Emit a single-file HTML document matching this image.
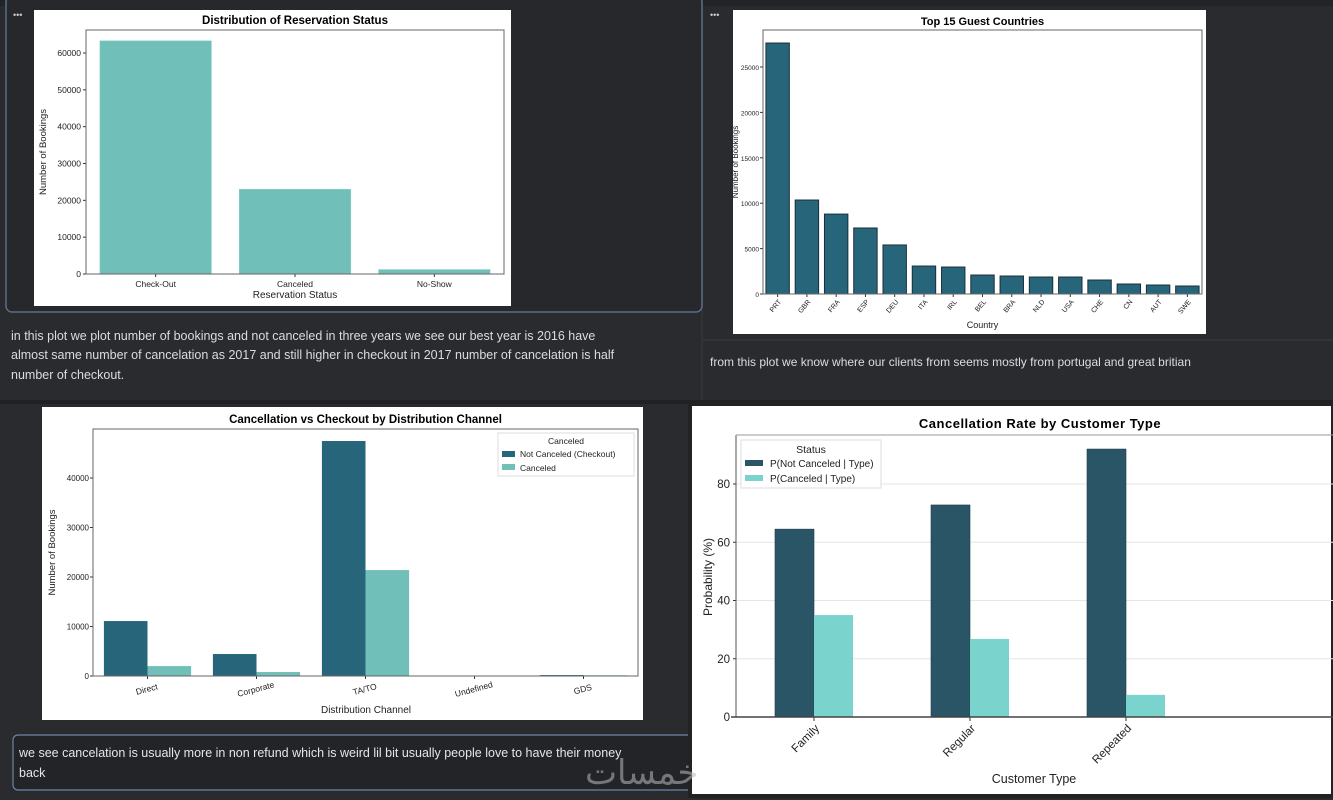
<!DOCTYPE html>
<html><head><meta charset="utf-8"><style>
html,body{margin:0;padding:0;background:#2a2b2e;width:1333px;height:800px;overflow:hidden}
svg{display:block;font-family:"Liberation Sans","DejaVu Sans",sans-serif}
</style></head><body>
<svg id="s" width="1333" height="800" viewBox="0 0 1333 800">
<rect x="0" y="0" width="1333" height="800" fill="#2a2b2e"/>
<rect x="0" y="0" width="1333" height="6" fill="#222326"/>
<line x1="702" y1="0" x2="702" y2="400" stroke="#3a3b3e"/>
<rect x="6" y="-4" width="696" height="316" rx="6" fill="#27282b" stroke="#5a6e86" stroke-width="1.5"/>
<text x="13" y="18" fill="#ccc" font-size="9">•••</text>
<text x="710" y="18" fill="#ccc" font-size="9">•••</text>
<line x1="703" y1="340" x2="1333" y2="340" stroke="#3c3d40"/>
<g fill="#dcdcdc" font-size="12.5">
<text x="11" y="340">in this plot we plot number of bookings and not canceled in three years we see our best year is 2016 have</text>
<text x="11" y="359">almost same number of cancelation as 2017 and still higher in checkout in 2017 number of cancelation is half</text>
<text x="11" y="379">number of checkout.</text>
</g>
<text x="710" y="366" fill="#dcdcdc" font-size="12">from this plot we know where our clients from seems mostly from portugal and great britian</text>
<rect x="0" y="400" width="1333" height="4" fill="#202124"/>
<rect x="13" y="735" width="690" height="55" rx="5" fill="#232427" stroke="#6b86a3" stroke-width="1.2"/>
<g fill="#e6e6e6" font-size="12.5">
<text x="19" y="757">we see cancelation is usually more in non refund which is weird lil bit usually people love to have their money</text>
<text x="19" y="777">back</text>
</g>
<rect x="690" y="404" width="643" height="392" fill="#ffffff" stroke="#222" stroke-width="4"/>
<g id="root"></g>
<text x="585" y="784" fill="#bbb" opacity="0.55" font-size="34" font-family="'DejaVu Sans',sans-serif">خمسات</text>
</svg>
<script>
// Chart 1 data
const statusCats = ["Check-Out","Canceled","No-Show"];
const statusVals = [63300, 23000, 1200];
const statusTicks = [0,10000,20000,30000,40000,50000,60000];
// Chart 2 data
const countryCats = ["PRT","GBR","FRA","ESP","DEU","ITA","IRL","BEL","BRA","NLD","USA","CHE","CN","AUT","SWE"];
const countryVals = [27640,10350,8800,7270,5400,3080,2970,2090,1980,1870,1870,1540,1100,990,880];
const countryTicks = [0,5000,10000,15000,20000,25000];
// Chart 3 data
const channelCats = ["Direct","Corporate","TA/TO","Undefined","GDS"];
const channelNotCanceled = [11100,4440,47470,0,190];
const channelCanceled = [2000,800,21400,0,140];
const channelTicks = [0,10000,20000,30000,40000];
// Chart 4 data
const custCats = ["Family","Regular","Repeated"];
const custNotCanceled = [64.5,72.8,92.0];
const custCanceled = [35.0,26.8,7.6];
const custTicks = [0,20,40,60,80];

const NS="http://www.w3.org/2000/svg";
const root=document.getElementById('root');
function mk(tag,attrs,parent,txt){const e=document.createElementNS(NS,tag);for(const k in attrs)e.setAttribute(k,attrs[k]);if(txt!=null)e.textContent=txt;(parent||root).appendChild(e);return e;}
function lin(d0,d1,r0,r1){return v=>r0+(v-d0)/(d1-d0)*(r1-r0);}

// ---------- Chart 1 ----------
{
const g=mk('g',{});


const bg=mk('rect',{x:34,y:10,width:477,height:296,fill:'#fff'},g);

const L=86,R=504,T=30,B=274;
const y=lin(0,60000,B,B-221);
const band=(R-L)/statusCats.length;
statusTicks.forEach(t=>{
  const tl=mk('text',{x:L-5,y:y(t)+3,'font-size':8.5,'text-anchor':'end',fill:'#222'},g,String(t));
  
  mk('line',{x1:L-3,x2:L,y1:y(t),y2:y(t),stroke:'#333'},g);
});
statusCats.forEach((c,i)=>{
  const cx=L+band*(i+0.5),w=band*0.8;
  const b=mk('rect',{x:cx-w/2,y:y(statusVals[i]),width:w,height:B-y(statusVals[i]),fill:'#70bfb8',stroke:'#8fcfca','stroke-width':0.6},g);
  
  mk('line',{x1:cx,x2:cx,y1:B,y2:B+3,stroke:'#333'},g);
  const tl=mk('text',{x:cx,y:B+13,'font-size':8.5,'text-anchor':'middle',fill:'#222'},g,c);
  
});
mk('rect',{x:L,y:T,width:R-L,height:B-T,fill:'none',stroke:'#666','stroke-width':1},g);
const t=mk('text',{x:(L+R)/2,y:24,'font-size':11.5,'font-weight':'bold','text-anchor':'middle',fill:'#000'},g,'Distribution of Reservation Status');

const xl=mk('text',{x:(L+R)/2,y:298,'font-size':10,'text-anchor':'middle',fill:'#222'},g,'Reservation Status');

const yl=mk('text',{x:0,y:0,'font-size':9.5,'text-anchor':'middle',fill:'#222',transform:`translate(46,${(T+B)/2}) rotate(-90)`},g,'Number of Bookings');

}

// ---------- Chart 2 ----------
{
const g=mk('g',{});


const bg=mk('rect',{x:733,y:10,width:473,height:324,fill:'#fff'},g);

const L=763,R=1202,T=30,B=294;
const y=lin(0,25000,B,B-227);
const band=(R-L)/countryCats.length;
countryTicks.forEach(t=>{
  const tl=mk('text',{x:L-4,y:y(t)+3,'font-size':6.5,'text-anchor':'end',fill:'#222'},g,String(t));
  
  mk('line',{x1:L-3,x2:L,y1:y(t),y2:y(t),stroke:'#333'},g);
});
countryCats.forEach((c,i)=>{
  const cx=L+band*(i+0.5),w=band*0.8;
  const b=mk('rect',{x:cx-w/2,y:y(countryVals[i]),width:w,height:B-y(countryVals[i]),fill:'#26657a',stroke:'#1b2f38','stroke-width':1},g);
  
  mk('line',{x1:cx,x2:cx,y1:B,y2:B+3,stroke:'#333'},g);
  const tl=mk('text',{x:0,y:0,'font-size':7,'text-anchor':'end',fill:'#222',transform:`translate(${cx+4},${B+8}) rotate(-50)`},g,c);
  
});
mk('rect',{x:L,y:T,width:R-L,height:B-T,fill:'none',stroke:'#666','stroke-width':1},g);
const t=mk('text',{x:(L+R)/2,y:25,'font-size':11,'font-weight':'bold','text-anchor':'middle',fill:'#000'},g,'Top 15 Guest Countries');

const xl=mk('text',{x:(L+R)/2,y:328,'font-size':9,'text-anchor':'middle',fill:'#222'},g,'Country');

const yl=mk('text',{x:0,y:0,'font-size':8,'text-anchor':'middle',fill:'#222',transform:`translate(738,${(T+B)/2}) rotate(-90)`},g,'Number of Bookings');

}

// ---------- Chart 3 ----------
{
const g=mk('g',{});


const bg=mk('rect',{x:42,y:407,width:601,height:313,fill:'#fff'},g);

const L=93,R=638,T=429,B=676;
const y=lin(0,40000,B,B-198);
const band=(R-L)/channelCats.length;
channelTicks.forEach(t=>{
  const tl=mk('text',{x:L-4,y:y(t)+3,'font-size':8,'text-anchor':'end',fill:'#222'},g,String(t));
  
  mk('line',{x1:L-3,x2:L,y1:y(t),y2:y(t),stroke:'#333'},g);
});
channelCats.forEach((c,i)=>{
  const cx=L+band*(i+0.5),w=band*0.4;
  const b1=mk('rect',{x:cx-w,y:y(channelNotCanceled[i]),width:w,height:B-y(channelNotCanceled[i]),fill:'#26657a'},g);
  
  const b2=mk('rect',{x:cx,y:y(channelCanceled[i]),width:w,height:B-y(channelCanceled[i]),fill:'#70bfb8'},g);
  
  mk('line',{x1:cx,x2:cx,y1:B,y2:B+3,stroke:'#333'},g);
  const tl=mk('text',{x:0,y:0,'font-size':8.5,'text-anchor':'middle',fill:'#222',transform:`translate(${cx},${B+16}) rotate(-15)`},g,c);
  
});
mk('rect',{x:L,y:T,width:R-L,height:B-T,fill:'none',stroke:'#666','stroke-width':1},g);
const lg=mk('g',{},g);
mk('rect',{x:498,y:433,width:136,height:43,fill:'#fff',stroke:'#ddd'},lg);
mk('text',{x:566,y:444,'font-size':8.5,'text-anchor':'middle',fill:'#222'},lg,'Canceled');
const e1=mk('g',{},lg);
mk('rect',{x:502,y:451,width:13,height:6,fill:'#26657a'},e1);
mk('text',{x:520,y:457,'font-size':8.5,fill:'#222'},e1,'Not Canceled (Checkout)');
const e2=mk('g',{},lg);
mk('rect',{x:502,y:464,width:13,height:6,fill:'#70bfb8'},e2);
mk('text',{x:520,y:471,'font-size':8.5,fill:'#222'},e2,'Canceled');
const t=mk('text',{x:(L+R)/2,y:423,'font-size':11.5,'font-weight':'bold','text-anchor':'middle',fill:'#000'},g,'Cancellation vs Checkout by Distribution Channel');

const xl=mk('text',{x:366,y:713,'font-size':10,'text-anchor':'middle',fill:'#222'},g,'Distribution Channel');

const yl=mk('text',{x:0,y:0,'font-size':9.5,'text-anchor':'middle',fill:'#222',transform:`translate(55,${(T+B)/2}) rotate(-90)`},g,'Number of Bookings');

}

// ---------- Chart 4 ----------
{
const g=mk('g',{});


const L=736,R=1333,T=435,B=717;
const y=lin(0,80,B,B-233);
custTicks.forEach(t=>{
  const gl=mk('line',{x1:L,x2:R,y1:y(t),y2:y(t),stroke:'#e6e6e6','stroke-width':1},g);
  
  const tl=mk('text',{x:L-6,y:y(t)+4,'font-size':11.5,'text-anchor':'end',fill:'#222'},g,String(t));
  
  mk('line',{x1:L-3,x2:L,y1:y(t),y2:y(t),stroke:'#333'},g);
});
const step=156,first=814;
custCats.forEach((c,i)=>{
  const cx=first+step*i,w=39;
  const b1=mk('rect',{x:cx-w,y:y(custNotCanceled[i]),width:w,height:B-y(custNotCanceled[i]),fill:'#2a5566',stroke:'#1e3d4a','stroke-width':0.6},g);
  
  const b2=mk('rect',{x:cx,y:y(custCanceled[i]),width:w,height:B-y(custCanceled[i]),fill:'#7ad3cc'},g);
  
  mk('line',{x1:cx,x2:cx,y1:B,y2:B+4,stroke:'#333'},g);
  const tl=mk('text',{x:0,y:0,'font-size':11.5,'text-anchor':'end',fill:'#222',transform:`translate(${cx+6},${B+12}) rotate(-45)`},g,c);
  
});
mk('line',{x1:L,x2:L,y1:T,y2:B,stroke:'#555','stroke-width':1},g);
mk('line',{x1:L,x2:R,y1:T,y2:T,stroke:'#999','stroke-width':1},g);
mk('line',{x1:L-5,x2:R,y1:B,y2:B,stroke:'#444','stroke-width':1.5},g);
const lg=mk('g',{},g);
mk('rect',{x:741,y:440,width:140,height:48,fill:'#fff',stroke:'#ddd'},lg);
mk('text',{x:811,y:453,'font-size':10.5,'text-anchor':'middle',fill:'#222'},lg,'Status');
const e1=mk('g',{},lg);
mk('rect',{x:745,y:460,width:18,height:6,fill:'#2a5566'},e1);
mk('text',{x:770,y:467,'font-size':10,fill:'#222'},e1,'P(Not Canceled | Type)');
const e2=mk('g',{},lg);
mk('rect',{x:745,y:475,width:18,height:6,fill:'#7ad3cc'},e2);
mk('text',{x:770,y:482,'font-size':10,fill:'#222'},e2,'P(Canceled | Type)');
const t=mk('text',{x:1040,y:428,'font-size':13,'font-weight':'bold','text-anchor':'middle',fill:'#000','letter-spacing':'0.5'},g,'Cancellation Rate by Customer Type');

const xl=mk('text',{x:1034,y:783,'font-size':12.5,'text-anchor':'middle',fill:'#222'},g,'Customer Type');

const yl=mk('text',{x:0,y:0,'font-size':12,'text-anchor':'middle',fill:'#222',transform:`translate(712,577) rotate(-90)`},g,'Probability (%)');

}
</script>
</body></html>
